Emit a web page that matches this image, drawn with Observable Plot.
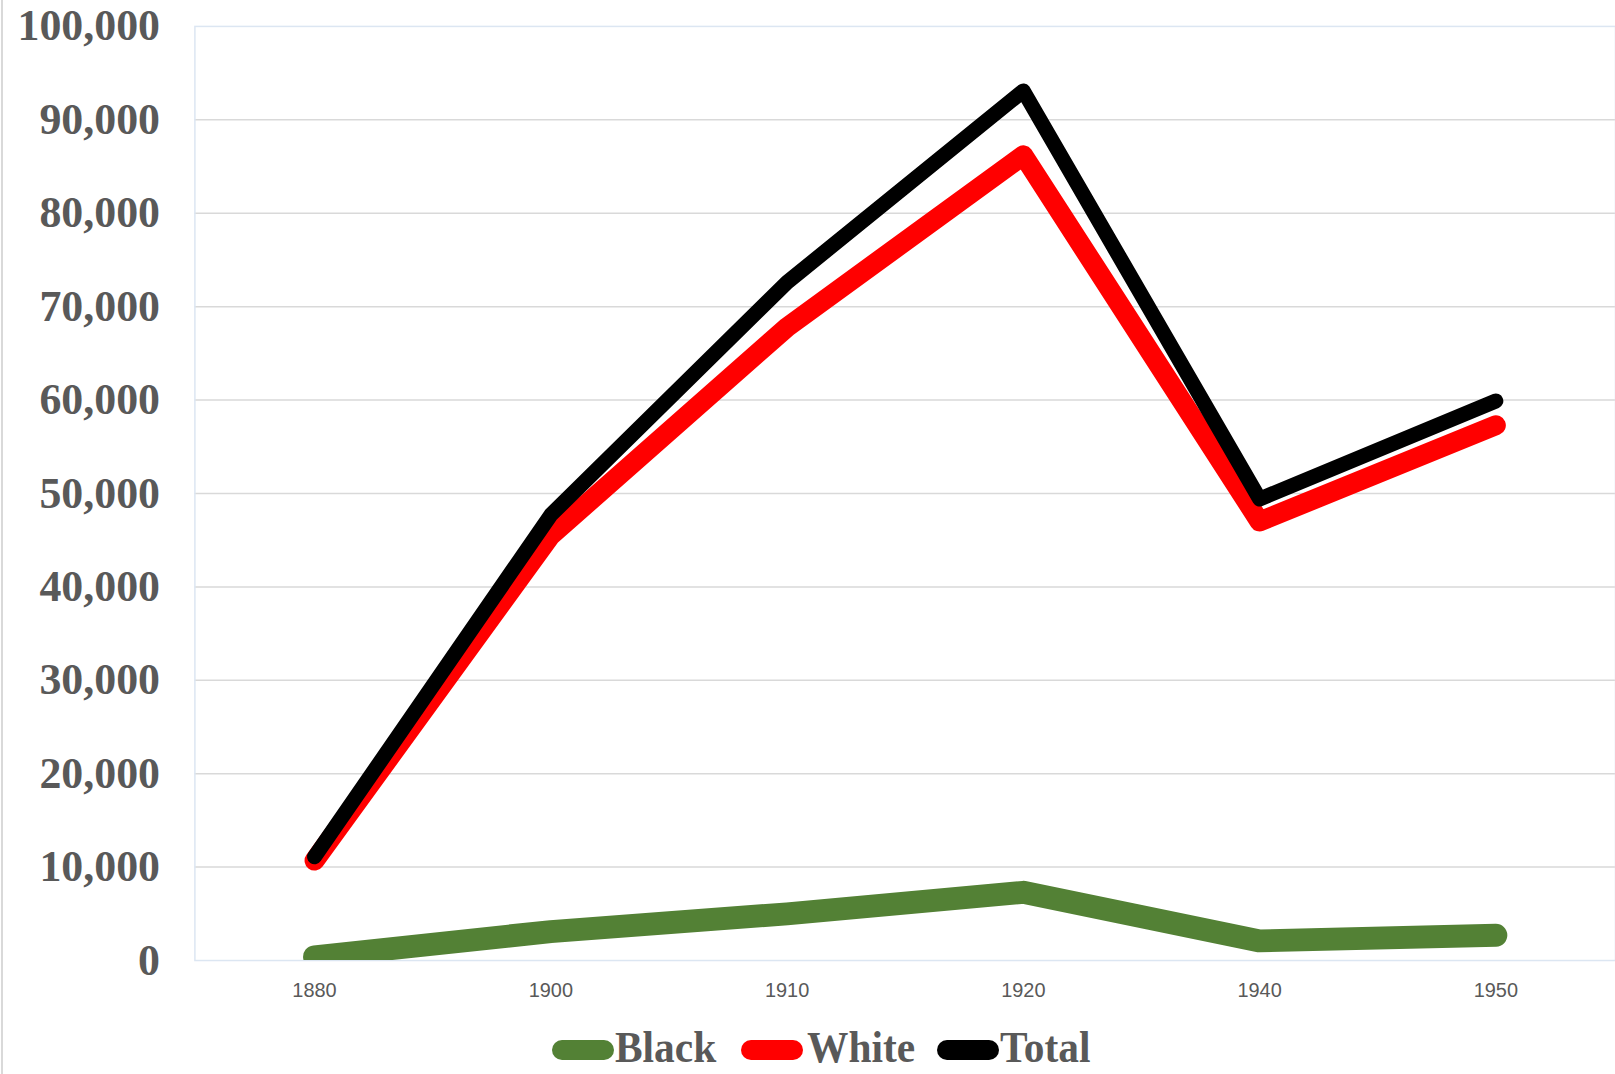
<!DOCTYPE html>
<html>
<head>
<meta charset="utf-8">
<script src="https://cdn.jsdelivr.net/npm/d3@7"></script>
<script src="https://cdn.jsdelivr.net/npm/@observablehq/plot@0.6"></script>
<style>
  html, body { margin: 0; padding: 0; background: #fff; }
  body { width: 1615px; height: 1074px; overflow: hidden; position: relative; }
  #border { position: absolute; left: 1px; top: 0; width: 2px; height: 1074px; background: #d9d9d9; }
  #chart { position: absolute; left: 0; top: 0; }
  .sw { position: absolute; top: 1040px; height: 20px; width: 62px; border-radius: 10px; }
  .lt { position: absolute; top: 1025px; font-family: "Liberation Serif", "Times New Roman", serif; font-weight: bold;
        font-size: 45px; line-height: 45px; color: #595959; transform: scaleX(0.92); transform-origin: left center; white-space: nowrap; }
</style>
</head>
<body>
<div id="border"></div>
<div id="chart"></div>
<div id="legend"></div>
<script>
// Data
const years = ["1880", "1900", "1910", "1920", "1940", "1950"];
const blackPop = [400, 3100, 5000, 7300, 2100, 2700];
const whitePop = [10700, 45500, 67800, 86200, 47000, 57300];
const totalPop = [11100, 47700, 72600, 93100, 49400, 59900];
const seriesNames = ["Black", "White", "Total"];
const seriesColors = ["#538135", "#ff0000", "#000000"];
const yTicks = [0, 10000, 20000, 30000, 40000, 50000, 60000, 70000, 80000, 90000, 100000];
const gridTicks = [10000, 20000, 30000, 40000, 50000, 60000, 70000, 80000, 90000];

const seriesValues = [blackPop, whitePop, totalPop];
const seriesWidths = [23, 20, 15];

const lineMarks = seriesValues.map((vals, s) =>
  Plot.line(years, {
    x: d => d,
    y: (d, i) => vals[i],
    stroke: seriesColors[s],
    strokeWidth: seriesWidths[s],
    strokeLinecap: "round",
    strokeLinejoin: "round",
    clip: true
  })
);

const chart = Plot.plot({
  width: 1620,
  height: 1010,
  marginLeft: 195,
  marginRight: 0,
  marginTop: 26,
  marginBottom: 47,
  style: { background: "transparent", overflow: "visible" },
  x: { type: "point", domain: years, padding: 0.5 },
  y: { domain: [0, 100000] },
  marks: [
    Plot.ruleY(gridTicks, { stroke: "#d9d9d9", strokeWidth: 1.5 }),
    Plot.frame({ stroke: "#dce6f2", strokeWidth: 1.5 }),
    Plot.axisY({
      ticks: yTicks, tickSize: 0, tickPadding: 35, tickFormat: d3.format(","),
      fontSize: 44, fontWeight: "bold", fontFamily: "Liberation Serif, Times New Roman, serif",
      color: "#595959", label: null
    }),
    Plot.axisX({
      tickSize: 0, tickPadding: 22, fontSize: 20,
      fontFamily: "Liberation Sans, Arial, sans-serif", color: "#595959", label: null
    }),
    ...lineMarks
  ]
});
document.getElementById("chart").appendChild(chart);

// Legend
const legend = document.getElementById("legend");
const swLeft = [552, 741, 937];
const txtLeft = [615, 807, 1000];
seriesNames.forEach((name, i) => {
  const sw = document.createElement("div");
  sw.className = "sw";
  sw.style.left = swLeft[i] + "px";
  sw.style.background = seriesColors[i];
  legend.appendChild(sw);
  const t = document.createElement("div");
  t.className = "lt";
  t.style.left = txtLeft[i] + "px";
  t.textContent = name;
  legend.appendChild(t);
});
</script>
</body>
</html>
